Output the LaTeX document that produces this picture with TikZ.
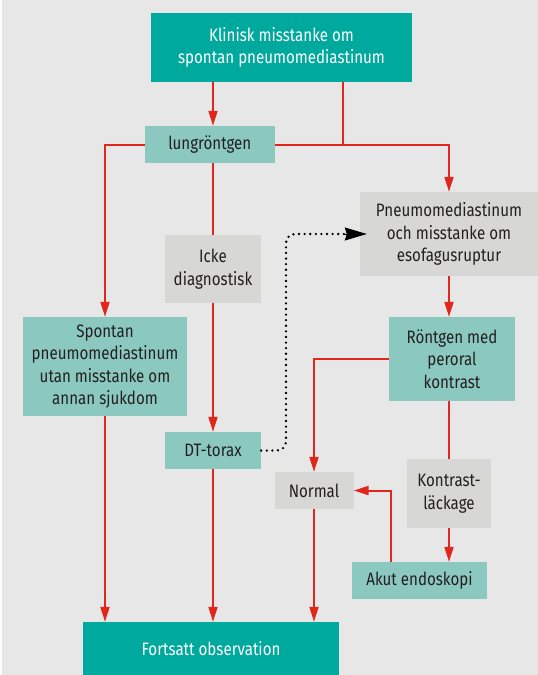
\documentclass[tikz,border=0pt]{standalone}
\usepackage{fontspec}
\setmainfont[FakeStretch=0.84]{Fira Sans}
\usetikzlibrary{arrows.meta,calc}
\definecolor{bgc}{HTML}{E7E7E7}
\definecolor{tealdark}{HTML}{00A99D}
\definecolor{teallight}{HTML}{8BC9C0}
\definecolor{graybox}{HTML}{D7D7D5}
\definecolor{redline}{HTML}{E1261C}
\definecolor{txt}{HTML}{231F20}
\tikzset{
  box/.style={inner sep=0pt, align=center, font=\fontsize{18}{22.5}\selectfont, text=txt},
  darkbox/.style={box, fill=tealdark, text=white},
  lightbox/.style={box, fill=teallight},
  greybox/.style={box, fill=graybox},
  conn/.style={draw=redline, line width=2pt},
  arr/.style={conn, -{Triangle[length=15pt,width=9pt]}},
  dotline/.style={draw=black, line width=2.6pt, line cap=round, dash pattern=on 0pt off 5.6pt},
  dottip/.style={draw=black, line width=1pt, -{Stealth[length=22pt,width=13pt,inset=2pt]}},
}
\begin{document}
\begin{tikzpicture}[x=1pt,y=-1pt]
\useasboundingbox (0,0) rectangle (538,675);
\fill[white] (0,0) rectangle (538,675);
\fill[bgc] (2,0) rectangle (538,675);

\node[darkbox, minimum width=261pt, minimum height=69pt] (klin) at (281.5,47.5) {Klinisk misstanke om\\spontan pneumomediastinum};
\node[lightbox, minimum width=129.5pt, minimum height=37pt] (lung) at (209.75,144.5) {lungröntgen};
\node[greybox, minimum width=178pt, minimum height=84pt] (pneu) at (449,234) {Pneumomediastinum\\och misstanke om\\esofagusruptur};
\node[greybox, minimum width=96pt, minimum height=68pt] (icke) at (213,269) {Icke\\diagnostisk};
\node[lightbox, minimum width=164pt, minimum height=99pt] (spon) at (105,366.5) {Spontan\\pneumomediastinum\\utan misstanke om\\annan sjukdom};
\node[lightbox, minimum width=126pt, minimum height=84pt] (ront) at (452,359) {Röntgen med\\peroral\\kontrast};
\node[lightbox, minimum width=96pt, minimum height=37pt] (dt) at (213,450.5) {DT-torax};
\node[greybox, minimum width=79pt, minimum height=37pt] (norm) at (314,490.5) {Normal};
\node[greybox, minimum width=84pt, minimum height=69pt] (kont) at (449,493.5) {Kontrast-\\läckage};
\node[lightbox, minimum width=135pt, minimum height=37pt] (akut) at (419.5,580.5) {Akut endoskopi};
\node[darkbox, minimum width=256pt, minimum height=53pt] (fort) at (211,648.5) {Fortsatt observation};

\coordinate (j1) at (343,144.5);
\coordinate (k1) at (391,560);
\coordinate (d1) at (286,234);
\coordinate (d2) at (344,234);

\draw[arr] (klin.south -| icke.north) -- (lung.north -| icke.north);
\draw[conn] (klin.south -| j1) -- (j1);
\draw[arr] (lung.east) -| (pneu.north);
\draw[arr] (lung.west) -| (spon.north);
\draw[conn] (lung.south -| icke.north) -- (icke.north);
\draw[arr] (icke.south) -- (dt.north);
\draw[arr] (spon.south) -- (fort.north -| spon.south);
\draw[arr] (dt.south) -- (fort.north -| dt.south);
\draw[arr] (norm.south) -- (fort.north -| norm.south);
\draw[arr] (pneu.south) -- (ront.north -| pneu.south);
\draw[arr] (ront.west) -| (norm.north);
\draw[conn] (ront.south -| kont.north) -- (kont.north);
\draw[arr] (kont.south) -- (akut.north -| kont.south);
\draw[arr] (akut.north -| k1) |- (norm.east);
\draw[dotline, rounded corners=9pt] (dt.east) -| (d1) -- (d2);
\draw[dottip, shorten >=-7pt] (d2) -- (pneu.west);
\end{tikzpicture}
\end{document}
